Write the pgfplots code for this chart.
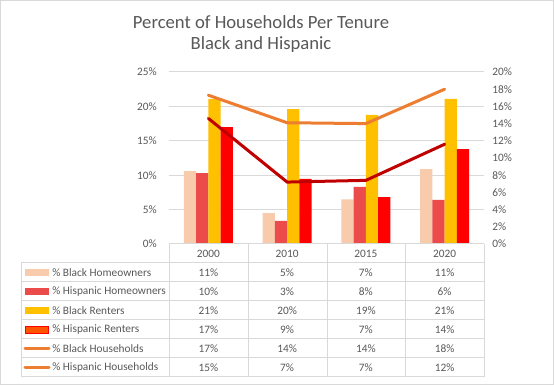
\documentclass[border=0pt]{standalone}
\usepackage{pgfplots}
\usepackage{pgfplotstable}
\pgfplotsset{compat=1.18}
\usepackage{fontspec}
\setmainfont{Carlito}
\definecolor{bh}{HTML}{F8CBAD}
\definecolor{hh}{HTML}{EB4B4B}
\definecolor{br}{HTML}{FFC000}
\definecolor{hr}{HTML}{FF0000}
\definecolor{hrk}{HTML}{FF5500}
\definecolor{bhh}{HTML}{ED7D31}
\definecolor{hhh}{HTML}{C00000}
\definecolor{txt}{HTML}{595959}
\definecolor{gridc}{HTML}{D9D9D9}

\pgfplotstableread{
x bh hh br hr bhh hhh
0 10.6 10.3 21.1 17.0 17.3 14.6
1 4.5 3.35 19.6 9.45 14.1 7.2
2 6.5 8.3 18.75 6.8 14.0 7.4
3 10.9 6.4 21.1 13.8 18.0 11.6
}\data

\begin{document}
\begin{tikzpicture}
\useasboundingbox (0pt,0pt) rectangle (415.5pt,288.75pt);
\fill[white] (0pt,0pt) rectangle (415.5pt,288.75pt);
\draw[gridc, line width=0.75pt] (0.375pt,0.375pt) rectangle (415.125pt,288.375pt);

\begin{axis}[at={(126.75pt,105.75pt)}, anchor=south west, scale only axis,
  width=236.25pt, height=129pt,
  xmin=-0.5, xmax=3.5, ymin=0, ymax=25,
  ytick={0,5,...,25}, xtick=\empty,
  yticklabel={\pgfmathprintnumber[assume math mode=true]{\tick}\%},
  axis line style={draw=none},
  ymajorgrids, grid style={gridc, line width=0.75pt},
  major tick length=0pt,
  yticklabel style={font=\fontsize{8.5}{10}\selectfont, text=txt, anchor=east, inner sep=0pt, xshift=-9pt},
  ybar, bar width=0.1556, clip=false]
\addplot[fill=bh, draw=none, bar shift=-0.2334] table[x=x,y=bh]{\data};
\addplot[fill=hh, draw=none, bar shift=-0.0778] table[x=x,y=hh]{\data};
\addplot[fill=br, draw=none, bar shift=0.0778] table[x=x,y=br]{\data};
\addplot[fill=hr, draw=none, bar shift=0.2334] table[x=x,y=hr]{\data};
\end{axis}

\begin{axis}[at={(126.75pt,105.75pt)}, anchor=south west, scale only axis,
  width=236.25pt, height=129pt,
  xmin=-0.5, xmax=3.5, ymin=0, ymax=20,
  ytick={0,2,...,20}, xtick=\empty,
  axis y line*=right, axis x line=none,
  yticklabel={\pgfmathprintnumber[assume math mode=true]{\tick}\%},
  axis line style={draw=none},
  major tick length=0pt,
  yticklabel style={font=\fontsize{8.5}{10}\selectfont, text=txt, anchor=west, inner sep=0pt, xshift=6pt},
  clip=false]
\addplot[bhh, line width=2.25pt, line cap=round, line join=round] table[x=x,y=bhh]{\data};
\addplot[hhh, line width=2.25pt, line cap=round, line join=round] table[x=x,y=hhh]{\data};
\end{axis}

\begin{scope}[x=0.75pt, y=-0.75pt, yshift=288.75pt]
% title
\node[text=txt, font=\fontsize{14}{17}\selectfont] at (261,22) {Percent of Households Per Tenure};
\node[text=txt, font=\fontsize{14}{17}\selectfont] at (261,45) {Black and Hispanic};
% table lines
\draw[gridc, line width=0.75pt] (169,244) -- (484,244);
\foreach \yy in {263,282,301,320,339,358,377} \draw[gridc, line width=0.75pt] (21,\yy) -- (484,\yy);
\draw[gridc, line width=0.75pt] (21,263) -- (21,377);
\foreach \xx in {169,248,327,405,484} \draw[gridc, line width=0.75pt] (\xx,244) -- (\xx,377);
% header
\foreach \yr [count=\i from 0] in {2000,2010,2015,2020}
  \node[text=txt, font=\fontsize{8.5}{10}\selectfont] at (208.4+78.75*\i,253.5) {\yr};
% legend keys
\fill[bh] (25,269) rectangle (49,276);
\fill[hh] (25,288) rectangle (49,295);
\fill[br] (25,307) rectangle (49,314);
\draw[hr, fill=hrk, line width=0.75pt] (25.5,326.5) rectangle (48.5,333.5);
\draw[bhh, line width=2.25pt, line cap=round] (25,348.5) -- (49,348.5);
\draw[bhh, line width=2.25pt, line cap=round] (25,367.5) -- (49,367.5);
% labels
\begin{scope}[every node/.style={text=txt, font=\fontsize{8.5}{10}\selectfont, anchor=west, inner sep=0pt}]
\node at (52,272.5) {\% Black Homeowners};
\node at (52,291.5) {\% Hispanic Homeowners};
\node at (52,310.5) {\% Black Renters};
\node at (52,329.5) {\% Hispanic Renters};
\node at (52,348.5) {\% Black Households};
\node at (52,367.5) {\% Hispanic Households};
\end{scope}
% values
\begin{scope}[every node/.style={text=txt, font=\fontsize{8.5}{10}\selectfont}]
\foreach \a/\b/\c/\d [count=\r from 0] in {11/5/7/11, 10/3/8/6, 21/20/19/21, 17/9/7/14, 17/14/14/18, 15/7/7/12} {
  \node at (208.4,272.5+19*\r) {\a\%};
  \node at (287.1,272.5+19*\r) {\b\%};
  \node at (365.9,272.5+19*\r) {\c\%};
  \node at (444.6,272.5+19*\r) {\d\%};
}
\end{scope}
\end{scope}
\end{tikzpicture}
\end{document}
